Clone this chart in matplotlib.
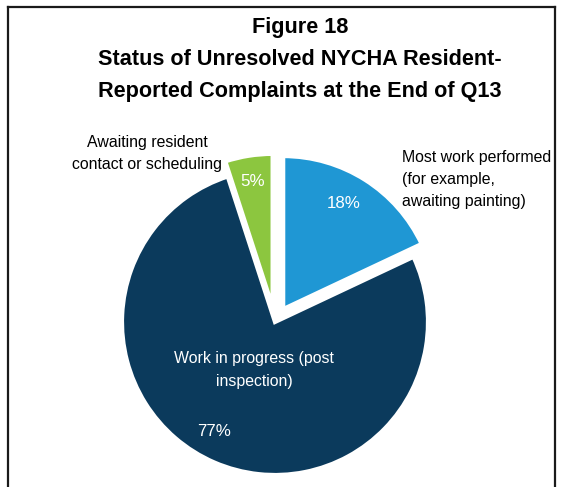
import matplotlib
matplotlib.use('Agg')
import matplotlib.pyplot as plt
from matplotlib.lines import Line2D

# data
categories = ['Most work performed\n(for example,\nawaiting painting)',
              'Work in progress (post\ninspection)',
              'Awaiting resident\ncontact or scheduling']
shares = [18, 77, 5]
explode = [0.1, 0, 0.1]
colors = ['#1f97d4', '#0b3a5c', '#8cc63f']
title_lines = ['Figure 18',
               'Status of Unresolved NYCHA Resident-',
               'Reported Complaints at the End of Q13']

plt.rcParams['font.family'] = ['Liberation Sans', 'DejaVu Sans']

W, H = 564, 487
fig = plt.figure(figsize=(W / 100, H / 100), dpi=100)

# pie centre and radius in pixels
cx, cy, R = 275, 322, 153
lim = 1.5
ax = fig.add_axes([(cx - lim * R) / W, (H - cy - lim * R) / H,
                   2 * lim * R / W, 2 * lim * R / H])
wedges, _ = ax.pie(shares, explode=explode, colors=colors, startangle=90,
                   counterclock=False,
                   wedgeprops=dict(edgecolor='white', linewidth=3))
ax.set_xlim(-lim, lim)
ax.set_ylim(-lim, lim)
ax.set_aspect('equal')


def pos(x, y):
    # pixel position -> data coords of the pie axes
    return (x - cx) / R, (cy - y) / R


fs = 11.4
ls = 1.6
# percentage labels
pct_pos = [(344, 203), (214, 431), (253, 181)]
for v, p in zip(shares, pct_pos):
    ax.text(*pos(*p), f'{v}%', color='white', fontsize=fs + 0.8, ha='center', va='center')

# category labels
ax.text(*pos(402, 150), categories[0], fontsize=fs, ha='left', va='top', linespacing=ls)
ax.text(*pos(254, 370), categories[1], fontsize=fs, ha='center', va='center',
        color='white', linespacing=ls, multialignment='center')
ax.text(*pos(147, 135), categories[2], fontsize=fs, ha='center', va='top',
        linespacing=ls, multialignment='center')

# title
for line, base in zip(title_lines, [33, 65, 97]):
    fig.text(300 / W, 1 - base / H, line, fontsize=15.6, fontweight='bold',
             ha='center', va='baseline')

# frame around the figure (open at the bottom)
frame = dict(color='#1a1a1a', linewidth=1.6, transform=fig.transFigure)
fig.add_artist(Line2D([8 / W, 8 / W], [0, 1 - 7 / H], **frame))
fig.add_artist(Line2D([8 / W, 555 / W], [1 - 7 / H, 1 - 7 / H], **frame))
fig.add_artist(Line2D([555 / W, 555 / W], [0, 1 - 7 / H], **frame))

fig.savefig('out.png', dpi=100)
